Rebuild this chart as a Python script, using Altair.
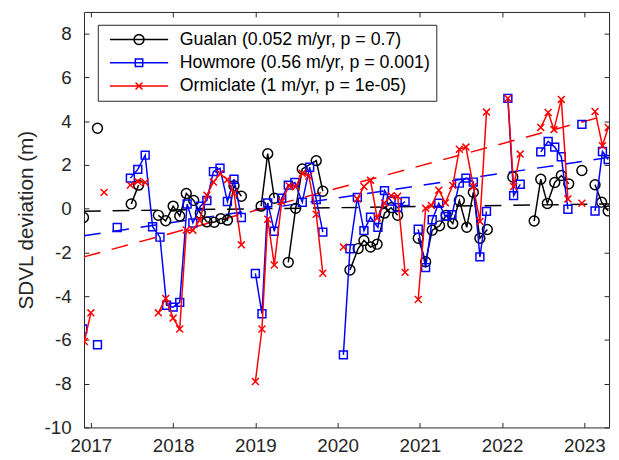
import math
import altair as alt
import pandas as pd

SERIES = ["Gualan (0.052 m/yr, p = 0.7)",
          "Howmore (0.56 m/yr, p = 0.001)",
          "Ormiclate (1 m/yr, p = 1e-05)"]
COLORS = ["#000000", "#0000ff", "#ff0000"]

YEAR_TICKS = [2017, 2018, 2019, 2020, 2021, 2022, 2023]
Y_TICKS = [-10, -8, -6, -4, -2, 0, 2, 4, 6, 8]

# Gualan
gualan_t = [2016.91, 2017.08, 2017.49, 2017.58, 2017.82, 2017.91, 2018.00, 2018.08, 2018.16,
            2018.25, 2018.33, 2018.41, 2018.50, 2018.58, 2018.66, 2018.74, 2018.83, 2019.07,
            2019.15, 2019.23, 2019.40, 2019.49, 2019.57, 2019.74, 2019.82, 2020.15, 2020.25,
            2020.32, 2020.40, 2020.48, 2020.57, 2020.65, 2020.73, 2020.98, 2021.07, 2021.15,
            2021.24, 2021.32, 2021.40, 2021.48, 2021.57, 2021.65, 2021.73, 2021.82, 2022.13,
            2022.39, 2022.47, 2022.55, 2022.64, 2022.72, 2022.81, 2022.97, 2023.13, 2023.21,
            2023.29]
gualan_v = [-0.4, 3.68, 0.22, 1.08, -0.3, -0.55, 0.12, -0.33, 0.7, 0.38, -0.2, -0.6, -0.62,
            -0.45, -0.52, 1.05, 0.57, 0.12, 2.52, 0.48, -2.45, 0.02, 1.82, 2.2, 0.8, -2.8,
            -1.82, -1.45, -1.75, -1.62, -0.2, 0.05, -0.3, -1.35, -2.42, -0.98, -0.78, -0.3,
            -0.68, 0.38, -0.85, 0.75, -1.35, -0.95, 1.45, -0.56, 1.35, 0.24, 1.2, 1.52, 1.14,
            1.75, 1.1, 0.3, -0.1]
gualan_runs = [1, 1, 2, 13, 3, 5, 8, 11, 1, 6, 1, 3]

# Howmore
howmore_t = [2016.90, 2017.08, 2017.32, 2017.48, 2017.57, 2017.66, 2017.75, 2017.84, 2017.92,
             2018.00, 2018.08, 2018.17, 2018.24, 2018.33, 2018.41, 2018.49, 2018.57, 2018.66,
             2018.74, 2018.83, 2019.00, 2019.08, 2019.15, 2019.23, 2019.32, 2019.40, 2019.48,
             2019.57, 2019.66, 2019.74, 2019.82, 2020.07, 2020.15, 2020.24, 2020.32, 2020.40,
             2020.49, 2020.57, 2020.65, 2020.73, 2020.82, 2020.98, 2021.07, 2021.15, 2021.23,
             2021.31, 2021.39, 2021.48, 2021.56, 2021.65, 2021.73, 2021.81, 2022.07, 2022.14,
             2022.22, 2022.47, 2022.56, 2022.64, 2022.72, 2022.80, 2022.97, 2023.13, 2023.22,
             2023.29]
howmore_v = [-5.5, -6.22, -0.86, 1.4, 1.8, 2.45, -0.82, -1.3, -4.41, -4.5, -4.28, 0.22, -0.65,
             0.12, 0.38, 1.7, 1.85, 0.33, 1.35, -0.4, -2.96, -4.8, 0.27, -1.03, 0.48, 1.08, 1.2,
             0.3, 1.9, 0.42, -1.07, -6.68, -1.83, 0.52, -1.0, -0.39, -0.85, 0.83, 0.35, 0.05,
             0.33, -0.94, -2.69, -0.5, 0.25, -0.35, -0.27, 1.17, 1.4, 1.22, -2.2, -0.12, 5.05,
             0.6, 1.12, 2.6, 3.08, 2.82, 2.38, -0.02, 3.86, -0.1, 2.62, 2.25]
howmore_runs = [1, 1, 1, 17, 11, 10, 11, 3, 5, 1, 3]

# Ormiclate
ormiclate_t = [2016.92, 2017.00, 2017.16, 2017.48, 2017.57, 2017.66, 2017.82, 2017.91, 2018.00,
               2018.08, 2018.16, 2018.24, 2018.32, 2018.41, 2018.49, 2018.57, 2018.66, 2018.74,
               2018.83, 2019.00, 2019.08, 2019.15, 2019.23, 2019.32, 2019.41, 2019.49, 2019.57,
               2019.65, 2019.74, 2019.82, 2020.07, 2020.24, 2020.32, 2020.40, 2020.48, 2020.57,
               2020.65, 2020.73, 2020.82, 2020.98, 2021.07, 2021.14, 2021.23, 2021.31, 2021.40,
               2021.48, 2021.56, 2021.65, 2021.73, 2021.81, 2022.07, 2022.14, 2022.22, 2022.47,
               2022.56, 2022.63, 2022.72, 2022.80, 2022.97, 2023.13, 2023.22, 2023.29]
ormiclate_v = [-6.07, -4.76, 0.75, 1.08, 1.25, 1.2, -4.76, -4.1, -5.0, -5.5, -0.97, -0.98, -0.53,
               0.62, 1.22, 1.6, 1.33, 0.72, -1.65, -7.9, -5.5, -0.48, -2.57, 0.33, 1.05, 1.0,
               1.62, 1.5, -0.25, -2.95, -1.75, 0.45, 1.02, 1.3, -0.42, 0.26, 0.6, 0.57, -2.91,
               -4.15, 0.02, 0.15, 0.85, 0.27, 1.07, 2.72, 2.82, 1.02, -0.58, 4.42, 5.05, 1.02,
               2.5, 3.72, 4.4, 3.62, 5.0, 0.45, 0.25, 4.45, 2.88, 3.72]
ormiclate_runs = [2, 1, 3, 13, 11, 1, 8, 11, 3, 5, 1, 3]

# Linear trends (end points across the axis range)
trend_t = [2016.916, 2023.30]
trend_gualan = [-0.11, 0.22]
trend_howmore = [-1.23, 2.35]
trend_ormiclate = [-2.2, 4.3]


def expand(runs):
    out = []
    for i, n in enumerate(runs):
        out += [i] * n
    return out


def frame(name, t, v, runs):
    return pd.DataFrame({"series": name, "t": t, "v": v, "seg": expand(runs)})


dg = frame(SERIES[0], gualan_t, gualan_v, gualan_runs)
dh = frame(SERIES[1], howmore_t, howmore_v, howmore_runs)
do = frame(SERIES[2], ormiclate_t, ormiclate_v, ormiclate_runs)
dall = pd.concat([dg, dh, do], ignore_index=True)

trends = [pd.DataFrame({"t": trend_t, "v": tv})
          for tv in (trend_gualan, trend_howmore, trend_ormiclate)]

AX = "#262626"
FONT = "Liberation Sans"
W, H = 532, 421

xs = alt.Scale(domain=[2016.916, 2023.30], nice=False, zero=False)
ys = alt.Scale(domain=[-10, 9], nice=False, zero=False)

ax_x_lab = alt.Axis(orient="bottom", values=YEAR_TICKS, labelExpr="'' + datum.value",
                    ticks=False, tickSize=0, domain=False, grid=False, labelPadding=9,
                    labelFontSize=19, labelFont=FONT, labelColor=AX, labelFlush=False,
                    labelOverlap=False, title=None)
ax_y_lab = alt.Axis(orient="left", values=Y_TICKS, labelExpr="'' + datum.value",
                    ticks=False, tickSize=0, domain=False, grid=False, labelPadding=13,
                    labelFontSize=19, labelFont=FONT, labelColor=AX, labelFlush=False,
                    labelOverlap=False, title="SDVL deviation (m)", titleFont=FONT,
                    titleFontSize=21, titleFontWeight="normal", titleColor=AX,
                    titleX=-58, titleY=H / 2, titleBaseline="middle")


def tick_axis(orient, vals):
    return alt.Axis(orient=orient, values=vals, labels=False, domain=False, grid=False,
                    ticks=True, tickSize=5, offset=-5, tickColor=AX, tickWidth=1, title=None)


def xenc(axis=None):
    return alt.X("t:Q", scale=xs, axis=axis)


def yenc(axis=None):
    return alt.Y("v:Q", scale=ys, axis=axis)


layers = []
for i, td in enumerate(trends):
    ax, ay = (ax_x_lab, ax_y_lab) if i == 0 else (None, None)
    layers.append(alt.Chart(td).mark_line(color=COLORS[i], strokeWidth=1.5, strokeDash=[17, 12],
                                          clip=True).encode(x=xenc(ax), y=yenc(ay)))

shapes = [("circle", 100), ("square", 64), ("M-1,-1L1,1M-1,1L1,-1", 49)]
for i, d in enumerate([dg, dh, do]):
    if i == 0:
        lx, ly = tick_axis("bottom", YEAR_TICKS), tick_axis("left", Y_TICKS)
        px, py = tick_axis("top", YEAR_TICKS), tick_axis("right", Y_TICKS)
    else:
        lx = ly = px = py = None
    line = alt.Chart(d).mark_line(color=COLORS[i], strokeWidth=1.5, clip=True).encode(
        x=xenc(lx), y=yenc(ly), detail="seg:N")
    pts = alt.Chart(d).mark_point(shape=shapes[i][0], size=shapes[i][1], filled=False,
                                  color=COLORS[i], strokeWidth=1.5, opacity=1, clip=True).encode(
        x=xenc(px), y=yenc(py))
    layers += [line, pts]

# legend glyphs: a line sample with the marker in its middle (path units = 5 px)
MC = 5.35
LINE = "M-0.55,0L11.25,0"
circ = "M" + "L".join(f"{MC + math.cos(a * math.pi / 12):.3f},{math.sin(a * math.pi / 12):.3f}"
                      for a in range(25))
sq = f"M{MC - 0.75},-0.75L{MC + 0.75},-0.75L{MC + 0.75},0.75L{MC - 0.75},0.75Z"
xx = f"M{MC - 0.7},-0.7L{MC + 0.7},0.7M{MC - 0.7},0.7L{MC + 0.7},-0.7"
LEG_PATHS = [LINE + circ, LINE + sq, LINE + xx]

leg = alt.Legend(orient="none", legendX=14, legendY=13, title=None, labelFontSize=18,
                 labelFont=FONT, labelColor="#000000", symbolSize=100, symbolStrokeWidth=1.5,
                 symbolOpacity=1, labelOffset=59, padding=6, rowPadding=5.5, strokeColor=AX,
                 fillColor="white", labelLimit=500)
legend_layer = alt.Chart(dall).mark_point(filled=False, opacity=0, size=100, strokeWidth=1.5).encode(
    x=xenc(), y=yenc(),
    shape=alt.Shape("series:N", scale=alt.Scale(domain=SERIES, range=LEG_PATHS), legend=leg),
    stroke=alt.Stroke("series:N", scale=alt.Scale(domain=SERIES, range=COLORS), legend=leg))
layers.append(legend_layer)

chart = alt.layer(*layers).resolve_axis(x="independent", y="independent").properties(
    width=W, height=H,
    padding={"left": 77, "top": 1, "right": 2, "bottom": 30},
    autosize=alt.AutoSizeParams(type="none"),
    background="white",
).configure(font=FONT).configure_view(stroke=AX, strokeWidth=1)

chart.save("out.html", embed_options={"renderer": "svg", "actions": False})
